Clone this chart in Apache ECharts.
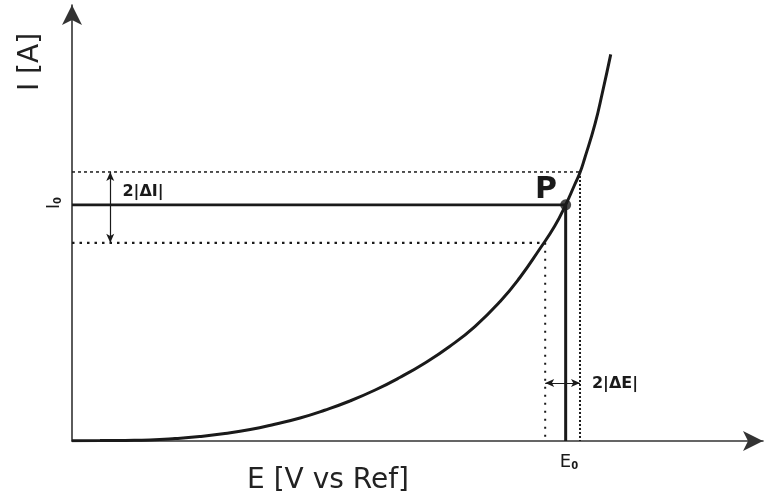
<!DOCTYPE html>
<html>
<head>
<meta charset="utf-8">
<script src="https://cdn.jsdelivr.net/npm/echarts@6/dist/echarts.min.js"></script>
<style>html,body{margin:0;padding:0;background:#fff}#c{width:764px;height:503px}</style>
</head>
<body>
<div id="c"></div>
<script>
// Polarisation curve (E vs I) in arbitrary units
const curveE = [0, 4.1, 7.8, 11.4, 15.1, 18.7, 22.4, 26.1, 29.7, 33.4, 37.0, 40.7, 44.4, 48.0, 51.7, 55.3, 59.0, 62.7, 65.6, 68.5, 70.7, 72.3, 73.6, 74.4, 75.1, 76.6, 77.7, 78.9];
const curveI = [0.07, 0.09, 0.14, 0.23, 0.56, 1.05, 1.76, 2.69, 3.93, 5.39, 7.21, 9.37, 11.94, 14.87, 18.27, 22.13, 26.81, 32.67, 38.29, 44.96, 50.35, 55.3, 59.95, 62.88, 66.28, 74.24, 81.73, 90.54];
// Operating point P
const E0 = 72.3;
const I0 = 55.3;
// Perturbation window
const iUpper = 63.0;
const iLower = 46.4;
const eLeft = 69.3;
const eRight = 74.4;
// Positions of the double arrows
const arrowIAtE = 5.6;
const arrowEAtI = 13.6;
// Axis extents (arbitrary units)
const eMax = 101.2;
const iMax = 102.1;

const curve = curveE.map((e, k) => [e, curveI[k]]);
const ink = '#1a1a1a';
const font = '"DejaVu Sans", sans-serif';

const chart = echarts.init(document.getElementById('c'), null, {renderer: 'canvas'});
const axisCommon = {
  type: 'value', min: 0,
  splitLine: {show: false}, axisTick: {show: false}, axisLabel: {show: false},
  axisLine: {show: true, symbol: ['none', 'arrow'], symbolSize: [15, 20], lineStyle: {color: '#333', width: 1.6}}
};
chart.setOption({
  animation: false,
  grid: {left: 72, right: 1, top: 5, bottom: 62},
  xAxis: Object.assign({max: eMax}, axisCommon),
  yAxis: Object.assign({max: iMax}, axisCommon),
  series: [
    {type: 'line', data: [[0, iUpper], [eRight, iUpper]], symbol: 'none', lineStyle: {color: ink, width: 1.5, type: [3, 3]}},
    {type: 'line', data: [[eRight, iUpper], [eRight, 0]], symbol: 'none', lineStyle: {color: ink, width: 2, type: [2, 2]}},
    {type: 'line', data: [[0, iLower], [eLeft, iLower]], symbol: 'none', lineStyle: {color: ink, width: 2.2, type: [2.5, 5]}},
    {type: 'line', data: [[eLeft, iLower], [eLeft, 0]], symbol: 'none', lineStyle: {color: ink, width: 2, type: [2, 6]}},
    {type: 'line', data: [[0, I0], [E0, I0]], symbol: 'none', lineStyle: {color: ink, width: 2.6}},
    {type: 'line', data: [[E0, 0], [E0, I0]], symbol: 'none', lineStyle: {color: ink, width: 3}},
    {type: 'line', data: curve, smooth: true, symbol: 'none', lineStyle: {color: ink, width: 3}},
    {type: 'scatter', data: [[E0, I0]], symbolSize: 11, itemStyle: {color: ink}},
    {type: 'line', data: [], symbol: 'none',
      markLine: {silent: true, symbol: ['arrow', 'arrow'], symbolSize: [6, 9], label: {show: false},
        lineStyle: {color: ink, width: 1.2, type: 'solid'},
        data: [
          [{coord: [arrowIAtE, iUpper]}, {coord: [arrowIAtE, iLower]}],
          [{coord: [eLeft, arrowEAtI]}, {coord: [eRight, arrowEAtI]}]
        ]}}
  ],
  graphic: [
    {type: 'text', x: 31, y: 62, rotation: Math.PI / 2, style: {text: 'I [A]', font: '28px ' + font, fill: '#222', align: 'center', verticalAlign: 'middle'}},
    {type: 'text', x: 328, y: 481, style: {text: 'E [V vs Ref]', font: '28px ' + font, fill: '#222', align: 'center', verticalAlign: 'middle'}},
    {type: 'text', x: 546, y: 190, style: {text: 'P', font: 'bold 30px ' + font, fill: ink, align: 'center', verticalAlign: 'middle'}},
    {type: 'text', x: 143, y: 192, style: {text: '2|ΔI|', font: 'bold 16px ' + font, fill: ink, align: 'center', verticalAlign: 'middle'}},
    {type: 'text', x: 615, y: 384, style: {text: '2|ΔE|', font: 'bold 16px ' + font, fill: ink, align: 'center', verticalAlign: 'middle'}},
    {type: 'text', x: 569, y: 462, style: {text: '{a|E}{b|0}', align: 'center', verticalAlign: 'middle',
      rich: {a: {font: '18px ' + font, fill: ink}, b: {font: 'bold 10px ' + font, fill: ink, verticalAlign: 'bottom'}}}},
    {type: 'text', x: 55, y: 203, rotation: Math.PI / 2, style: {text: '{a|I}{b|0}', align: 'center', verticalAlign: 'middle',
      rich: {a: {font: '17px ' + font, fill: ink}, b: {font: 'bold 10px ' + font, fill: ink, verticalAlign: 'bottom'}}}}
  ]
});
</script>
</body>
</html>
